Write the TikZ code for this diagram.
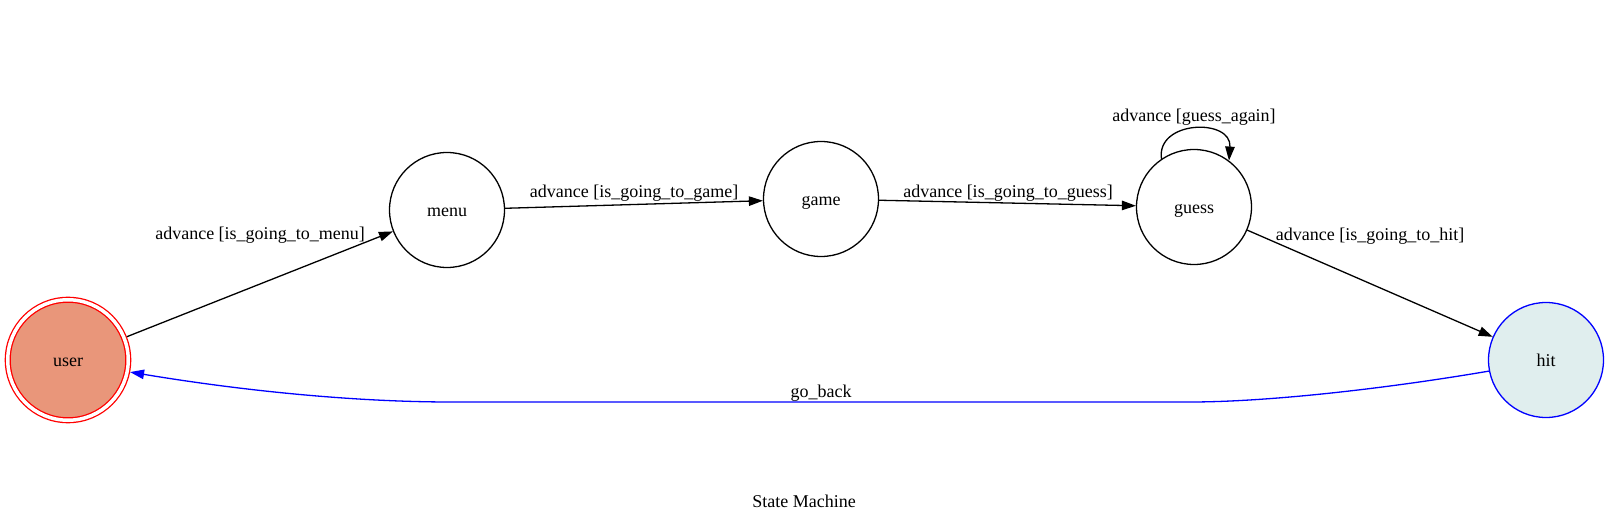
\documentclass[tikz,border=0pt]{standalone}
\usepackage{fontspec}
\setmainfont{Liberation Serif}
\usetikzlibrary{arrows.meta}
\definecolor{userfill}{RGB}{233,150,122}
\definecolor{hitfill}{RGB}{224,238,238}
\begin{document}
\begin{tikzpicture}[x=1pt,y=-1pt,
  lbl/.style={font=\fontsize{18}{22}\selectfont, inner sep=0pt},
  state/.style={circle, draw, line width=1.3pt, minimum size=115pt, inner sep=0pt, lbl, text height=13pt, text depth=0pt},
  edge/.style={line width=1.3pt, -{Triangle[length=14pt,width=9.5pt]}},
]
\useasboundingbox (0,0) rectangle (1609,521);
\node[state, minimum size=120.5pt, draw=red, fill=userfill, double=white, double distance=3.5pt, outer sep=3pt] (user) at (68,360) {user};
\node[state] (menu) at (447,210) {menu};
\node[state] (game) at (821,199) {game};
\node[state] (guess) at (1194,207) {guess};
\node[state, draw=blue, fill=hitfill] (hit) at (1546,360) {hit};

\draw[edge] (user) -- (menu);
\draw[edge] (menu) -- (game);
\draw[edge] (game) -- (guess);
\draw[edge] (guess) -- (hit);
\draw[edge] (guess.124) .. controls (1156,120) and (1232,118) .. (guess.53);
\draw[edge, draw=blue, -{Triangle[length=14pt,width=9.5pt,fill=blue]}, color=blue]
  (hit.191) .. controls (1390,388) and (1270,402) .. (1190,402)
  -- (451,402) .. controls (360,402) and (250,392) .. (user.-11);

\node[lbl] (l1) at (260,235.5) {advance [is\_going\_to\_menu]};
\node[lbl] (l2) at (634,193.5) {advance [is\_going\_to\_game]};
\node[lbl] (l3) at (1008,193.5) {advance [is\_going\_to\_guess]};
\node[lbl] (l4) at (1194,117.5) {advance [guess\_again]};
\node[lbl] (l5) at (1370,236.5) {advance [is\_going\_to\_hit]};
\node[lbl] (l6) at (821,393.5) {go\_back};
\node[lbl] (title) at (804,501) {State Machine};
\end{tikzpicture}
\end{document}
